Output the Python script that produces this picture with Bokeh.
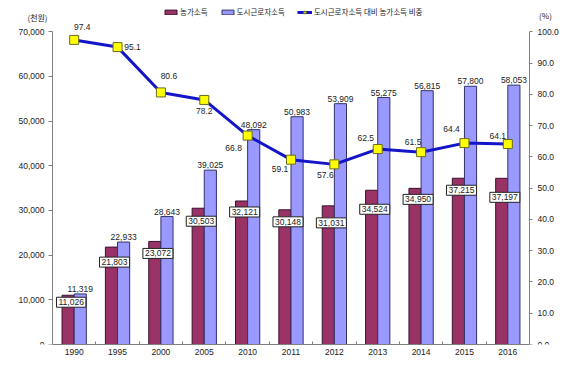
from bokeh.plotting import figure
from bokeh.models import (ColumnDataSource, Range1d, LinearAxis, FixedTicker,
                          NumeralTickFormatter, Legend, LegendItem, Label)
from bokeh.transform import dodge
from bokeh.core.properties import value
from bokeh.embed import file_html
from bokeh.resources import INLINE

years = ["1990", "1995", "2000", "2005", "2010", "2011", "2012", "2013", "2014", "2015", "2016"]
farm = [11026, 21803, 23072, 30503, 32121, 30148, 31031, 34524, 34950, 37215, 37197]
urban = [11319, 22933, 28643, 39025, 48092, 50983, 53909, 55275, 56815, 57800, 58053]
ratio = [97.4, 95.1, 80.6, 78.2, 66.8, 59.1, 57.6, 62.5, 61.5, 64.4, 64.1]
left_ticks = [0, 10000, 20000, 30000, 40000, 50000, 60000, 70000]
right_ticks = [0, 10, 20, 30, 40, 50, 60, 70, 80, 90, 100]

# label placement (screen px, downward positive)
ratio_dx = [8, 15, 8, 0, -14, -11, -9, -12, -8, -13, -10]
ratio_dy = [-13, 0, -16, 11, 12, 9, 11, -11, -10, -14, -8]
farm_dy = [7, 15, 12, 13, 11, 12, 17, 19, 11, 12, 19]

xs = list(range(len(years)))
src = ColumnDataSource(dict(
    x=xs, farm=farm, urban=urban, ratio=ratio,
    farm_lbl=[f"{v:,}" for v in farm],
    urban_lbl=[f"{v:,}" for v in urban],
    ratio_lbl=[f"{v:.1f}" for v in ratio],
    rdx=ratio_dx, rdy=ratio_dy, fdy=farm_dy,
))

NUM_FONT = value("Liberation Sans")
KR_FONT = "Noto Sans CJK KR"
FARM_C = "#993366"
URBAN_C = "#9999FF"
LINE_C = "#1414C8"
AX_C = "#808080"
TXT_C = "#222222"

X0, X1 = -0.5, 10.5  # category span covered by the axes

# frame covers the whole canvas width and top; axes sit at fixed data locations
p = figure(width=580, height=371, output_backend="svg", toolbar_location=None,
           x_range=Range1d(-1.699, 11.676), y_range=Range1d(0, 77000),
           min_border_left=0, min_border_right=0, min_border_top=0, min_border_bottom=27)
p.extra_y_ranges = {"pct": Range1d(0, 110)}
p.outline_line_color = None
p.xgrid.grid_line_color = None
p.ygrid.grid_line_color = None
p.background_fill_color = "white"
p.border_fill_color = "white"

fb = p.vbar(x=dodge("x", -0.14), top="farm", width=0.28, source=src,
            fill_color=FARM_C, line_color="#3a1030", line_width=1)
ub = p.vbar(x=dodge("x", 0.14), top="urban", width=0.28, source=src,
            fill_color=URBAN_C, line_color="#33336a", line_width=1)

ln = p.line(x="x", y="ratio", source=src, y_range_name="pct",
            line_color=LINE_C, line_width=3)
sc = p.scatter(x="x", y="ratio", source=src, y_range_name="pct", marker="square",
               size=9, fill_color="#FFFF00", line_color="#6b6b20", line_width=1)

# labels
p.text(x=dodge("x", 0.14), y="urban", text="urban_lbl", source=src,
       text_font=NUM_FONT, text_font_size="8.5px", text_color=TXT_C,
       text_align="center", text_baseline="bottom", y_offset=-2)
p.text(x="x", y="farm", text="farm_lbl", source=src,
       text_font=NUM_FONT, text_font_size="8.5px", text_color=TXT_C,
       text_align="center", text_baseline="middle", x_offset=-3, y_offset="fdy",
       background_fill_color="white", border_line_color=TXT_C, border_line_width=1,
       padding=2)
p.text(x="x", y="ratio", text="ratio_lbl", source=src, y_range_name="pct",
       text_font=NUM_FONT, text_font_size="8.5px", text_color=TXT_C,
       text_align="center", text_baseline="middle", x_offset="rdx", y_offset="rdy")

# axes
p.xaxis.ticker = FixedTicker(ticks=xs, minor_ticks=[i + 0.5 for i in [-1] + xs])
p.xaxis.major_label_overrides = {i: y for i, y in zip(xs, years)}
p.xaxis.bounds = (X0, X1)
p.xaxis.major_tick_out = 0
p.xaxis.major_tick_in = 0
p.xaxis.minor_tick_out = 0
p.xaxis.minor_tick_in = 3
p.xaxis.minor_tick_line_color = AX_C
p.xaxis.axis_line_color = AX_C
p.xaxis.major_label_standoff = 4

p.yaxis.fixed_location = X0
p.yaxis.ticker = FixedTicker(ticks=left_ticks)
p.yaxis.bounds = (left_ticks[0], left_ticks[-1])
p.yaxis.formatter = NumeralTickFormatter(format="0,0")
p.yaxis.major_tick_out = 4
p.yaxis.major_tick_in = 0
p.yaxis.minor_tick_line_color = None
p.yaxis.axis_line_color = AX_C
p.yaxis.major_tick_line_color = AX_C
p.yaxis.major_label_standoff = 4

ry = LinearAxis(y_range_name="pct", ticker=FixedTicker(ticks=right_ticks),
                formatter=NumeralTickFormatter(format="0.0"),
                bounds=(right_ticks[0], right_ticks[-1]), fixed_location=X1)
ry.major_tick_out = 3
ry.major_tick_in = 0
ry.minor_tick_line_color = None
ry.axis_line_color = AX_C
ry.major_tick_line_color = AX_C
ry.major_label_standoff = 5
p.add_layout(ry, "right")

for ax in [p.xaxis[0], p.yaxis[0], ry]:
    ax.major_label_text_font = "Liberation Sans"
    ax.major_label_text_font_size = "8.5px"
    ax.major_label_text_color = TXT_C

# units
p.add_layout(Label(x=-0.846, y=73195, text="(천원)",
                   text_font=KR_FONT, text_font_size="8px", text_color=TXT_C,
                   text_align="center", text_baseline="middle"))
p.add_layout(Label(x=10.869, y=105.2, y_range_name="pct", text="(%)",
                   text_font=KR_FONT, text_font_size="8px", text_color=TXT_C,
                   text_align="center", text_baseline="middle"))

legend = Legend(items=[
    LegendItem(label="농가소득", renderers=[fb]),
    LegendItem(label="도시근로자소득", renderers=[ub]),
    LegendItem(label="도시근로자소득 대비 농가소득 비중", renderers=[ln, sc]),
], orientation="horizontal", location=(163, 327))
legend.label_text_font = KR_FONT
legend.label_text_font_size = "7.5px"
legend.label_text_color = TXT_C
legend.glyph_width = 15
legend.glyph_height = 6
legend.label_standoff = 2
legend.spacing = 12
legend.padding = 0
legend.margin = 0
legend.border_line_color = None
legend.background_fill_alpha = 0
p.add_layout(legend)

open("out.html", "w").write(file_html(p, INLINE))
